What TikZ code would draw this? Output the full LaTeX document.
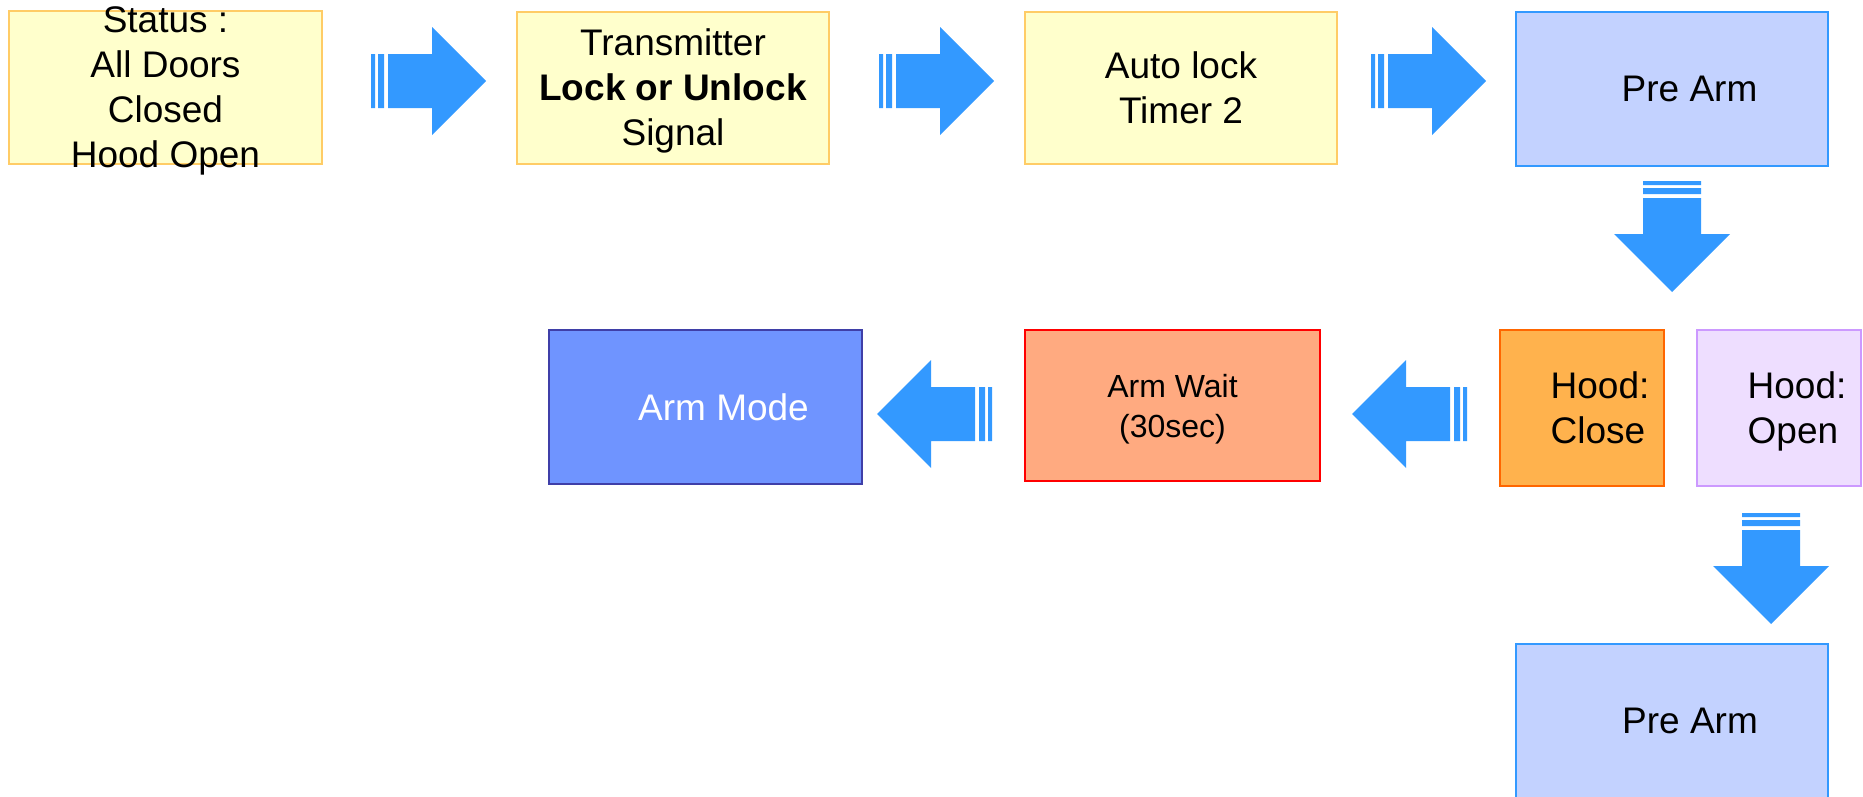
\documentclass[tikz,border=0pt]{standalone}
\usepackage{fontspec}
\setmainfont{Liberation Sans}
\usetikzlibrary{calc}

\definecolor{padyellow}{HTML}{FFFFCC}
\definecolor{padyellowline}{HTML}{FFCC66}
\definecolor{prearmfill}{HTML}{C3D2FF}
\definecolor{arrowblue}{HTML}{3399FF}
\definecolor{closefill}{HTML}{FFB24D}
\definecolor{closeline}{HTML}{FF6600}
\definecolor{openfill}{HTML}{EEDEFF}
\definecolor{openline}{HTML}{CC99FF}
\definecolor{waitfill}{HTML}{FFAA80}
\definecolor{armfill}{HTML}{6F94FF}
\definecolor{armline}{HTML}{3F3FA8}

\tikzset{
  statebox/.style={draw, line width=2pt, inner sep=0pt, align=center,
    minimum width=#1, minimum height=152pt, text depth=-4pt,
    font=\fontsize{37}{45}\selectfont},
  inputbox/.style={statebox=313pt, fill=padyellow, draw=padyellowline},
  prearmbox/.style={statebox=312pt, minimum height=154pt, fill=prearmfill, draw=arrowblue},
  pics/blockarrow/.style 2 args={code={
    \fill[arrowblue] (0,-#2) rectangle (4,#2) (7,-#2) rectangle (13,#2);
    \fill[arrowblue] (17,-#2) -- (#1,-#2) -- (#1,-2*#2) -- (#1+2*#2,0) -- (#1,2*#2)
      -- (#1,#2) -- (17,#2) -- cycle;
  }}
}

\begin{document}
\begin{tikzpicture}[x=1pt, y=-1pt]
  \clip (0,0) rectangle (1863,796);

  \node[inputbox, inner ysep=-4pt] (status) at (165.5, 87.5) {Status :\\All Doors\\Closed\\Hood Open};
  \node[inputbox, minimum width=312pt] (transmitter) at (673, 87.5) {Transmitter\\\textbf{Lock or Unlock}\\Signal};
  \node[inputbox, minimum width=312pt] (autolock) at (1181, 87.5) {Auto lock\\Timer 2};
  \node[prearmbox] (prearm) at (1671.5, 89) {\hspace*{36pt}Pre Arm};

  \node[statebox=164pt, minimum height=156pt, align=left, fill=closefill, draw=closeline]
    (hoodclose) at (1582, 408) {\hspace*{36pt}Hood:\\\hspace*{36pt}Close};
  \node[statebox=164pt, minimum height=156pt, align=left, fill=openfill, draw=openline]
    (hoodopen) at (1779, 408) {\hspace*{36pt}Hood:\\\hspace*{36pt}Open};
  \node[statebox=295pt, minimum height=151pt, fill=waitfill, draw=red,
    font=\fontsize{32}{40}\selectfont] (armwait) at (1172.5, 405.5) {Arm Wait\\(30sec)};
  \node[statebox=313pt, minimum height=154pt, fill=armfill, draw=armline, text=white]
    (armmode) at (705.5, 407) {\hspace*{36pt}Arm Mode};
  \node[prearmbox] (prearmtwo) at (1672, 721) {\hspace*{36pt}Pre Arm};

  \pic at ($(status.east)+(48,-6.5)$) {blockarrow={61}{27}};
  \pic at ($(transmitter.east)+(49,-6.5)$) {blockarrow={61}{27}};
  \pic at ($(autolock.east)+(33,-6.5)$) {blockarrow={61}{27}};
  \pic[rotate=-90] at ($(prearm.south)+(0.5,14)$) {blockarrow={53}{29}};
  \pic[rotate=180] at ($(hoodclose.west)+(-32,6)$) {blockarrow={61}{27}};
  \pic[rotate=180] at ($(armwait.west)+(-32,8.5)$) {blockarrow={61}{27}};
  \pic[rotate=-90] at ($(hoodopen.south)+(-8,26)$) {blockarrow={53}{29}};
\end{tikzpicture}
\end{document}
